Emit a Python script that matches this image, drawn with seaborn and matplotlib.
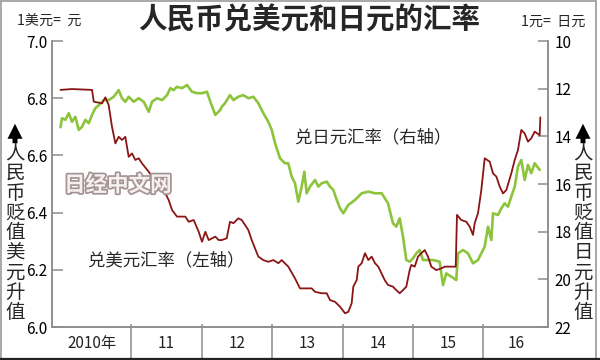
import matplotlib
matplotlib.use("Agg")
import matplotlib.pyplot as plt
import matplotlib.patheffects as pe
from matplotlib.lines import Line2D
from matplotlib.patches import FancyArrowPatch
import seaborn as sns

# ---------------- data ----------------
usd_t = [2010.00, 2010.16, 2010.447, 2010.471, 2010.589, 2010.636, 2010.683, 2010.730, 2010.778, 2010.825,
         2010.872, 2010.919, 2010.967, 2011.014, 2011.061, 2011.109, 2011.156, 2011.251, 2011.298, 2011.393,
         2011.487, 2011.534, 2011.582, 2011.652, 2011.770, 2011.818, 2011.889, 2011.960, 2012.007, 2012.054,
         2012.102, 2012.196, 2012.243, 2012.286, 2012.357, 2012.404, 2012.452, 2012.522, 2012.570, 2012.617,
         2012.664, 2012.712, 2012.759, 2012.806, 2012.877, 2012.948, 2013.019, 2013.090, 2013.137, 2013.231,
         2013.326, 2013.397, 2013.468, 2013.563, 2013.610, 2013.704, 2013.776, 2013.823, 2013.894, 2013.965,
         2014.035, 2014.082, 2014.130, 2014.153, 2014.201, 2014.224, 2014.272, 2014.319, 2014.366, 2014.414,
         2014.461, 2014.508, 2014.599, 2014.645, 2014.716, 2014.763, 2014.811, 2014.858, 2014.905, 2014.953,
         2014.976, 2015.024, 2015.071, 2015.118, 2015.166, 2015.213, 2015.260, 2015.331, 2015.402, 2015.450,
         2015.606, 2015.624, 2015.685, 2015.756, 2015.804, 2015.851, 2015.875, 2015.922, 2015.969, 2016.017,
         2016.088, 2016.135, 2016.182, 2016.230, 2016.277, 2016.324, 2016.394, 2016.443, 2016.489, 2016.536,
         2016.584, 2016.631, 2016.678, 2016.726, 2016.797, 2016.806]
usd_rate = [6.829, 6.832, 6.829, 6.788, 6.782, 6.803, 6.776, 6.700, 6.642, 6.665,
            6.654, 6.665, 6.595, 6.607, 6.584, 6.590, 6.572, 6.543, 6.526, 6.491,
            6.467, 6.444, 6.409, 6.386, 6.386, 6.368, 6.374, 6.333, 6.298, 6.333,
            6.304, 6.316, 6.304, 6.304, 6.310, 6.368, 6.363, 6.380, 6.374, 6.357,
            6.339, 6.304, 6.275, 6.246, 6.234, 6.228, 6.234, 6.223, 6.234, 6.211,
            6.170, 6.135, 6.135, 6.135, 6.123, 6.118, 6.118, 6.094, 6.088, 6.071,
            6.048, 6.053, 6.083, 6.141, 6.164, 6.211, 6.223, 6.258, 6.234, 6.246,
            6.223, 6.211, 6.164, 6.147, 6.141, 6.129, 6.118, 6.129, 6.141, 6.199,
            6.217, 6.211, 6.246, 6.258, 6.269, 6.246, 6.211, 6.199, 6.205, 6.211,
            6.211, 6.392, 6.374, 6.368, 6.351, 6.322, 6.363, 6.398, 6.479, 6.590,
            6.578, 6.537, 6.526, 6.491, 6.467, 6.479, 6.537, 6.584, 6.619, 6.689,
            6.677, 6.648, 6.660, 6.683, 6.671, 6.733]

jpy_t = [2010.000, 2010.021, 2010.068, 2010.116, 2010.163, 2010.210, 2010.258, 2010.305, 2010.352, 2010.400,
         2010.447, 2010.494, 2010.542, 2010.613, 2010.683, 2010.754, 2010.825, 2010.872, 2010.919, 2010.967,
         2011.038, 2011.109, 2011.180, 2011.251, 2011.298, 2011.369, 2011.440, 2011.511, 2011.558, 2011.605,
         2011.652, 2011.723, 2011.794, 2011.865, 2011.936, 2012.007, 2012.078, 2012.125, 2012.196, 2012.267,
         2012.286, 2012.333, 2012.404, 2012.452, 2012.522, 2012.593, 2012.664, 2012.735, 2012.806, 2012.877,
         2012.948, 2012.996, 2013.043, 2013.113, 2013.184, 2013.231, 2013.279, 2013.326, 2013.373, 2013.421,
         2013.458, 2013.492, 2013.539, 2013.610, 2013.657, 2013.704, 2013.776, 2013.823, 2013.870, 2013.918,
         2013.965, 2014.012, 2014.082, 2014.177, 2014.272, 2014.366, 2014.461, 2014.556, 2014.645, 2014.716,
         2014.763, 2014.811, 2014.858, 2014.905, 2014.953, 2015.000, 2015.047, 2015.095, 2015.142, 2015.213,
         2015.284, 2015.378, 2015.426, 2015.472, 2015.543, 2015.614, 2015.638, 2015.709, 2015.780, 2015.851,
         2015.922, 2015.969, 2016.017, 2016.064, 2016.111, 2016.135, 2016.206, 2016.253, 2016.300, 2016.348,
         2016.394, 2016.443, 2016.489, 2016.536, 2016.584, 2016.631, 2016.678, 2016.726, 2016.797]
jpy_rate = [13.62, 13.24, 13.31, 13.03, 13.39, 13.18, 13.73, 13.60, 13.31, 13.45,
            13.10, 12.82, 12.69, 12.48, 12.48, 12.34, 12.06, 12.40, 12.55, 12.34,
            12.55, 12.40, 12.55, 12.97, 12.55, 12.40, 12.48, 12.27, 11.98, 12.06,
            11.92, 11.98, 11.85, 12.13, 12.19, 12.19, 12.13, 12.55, 13.10, 12.89,
            12.76, 12.61, 12.27, 12.48, 12.34, 12.27, 12.40, 12.34, 12.61, 13.03,
            13.39, 13.73, 14.29, 14.92, 15.13, 15.13, 15.69, 15.97, 16.74, 16.11,
            15.48, 16.39, 16.11, 15.83, 16.11, 15.97, 15.90, 16.11, 16.25, 16.67,
            17.02, 17.23, 16.88, 16.67, 16.39, 16.32, 16.39, 16.39, 16.81, 17.65,
            17.79, 17.44, 18.21, 19.19, 19.26, 19.12, 18.91, 18.77, 19.19, 19.19,
            19.19, 19.26, 20.24, 19.75, 19.89, 20.03, 18.91, 18.77, 18.91, 19.33,
            19.19, 18.91, 18.63, 17.79, 18.35, 17.23, 17.30, 17.02, 16.81, 16.95,
            16.53, 16.11, 15.27, 14.99, 15.83, 15.20, 15.55, 15.13, 15.41]

year_bounds = [2011, 2012, 2013, 2014, 2015, 2016]
year_labels = ["2010年", "11", "12", "13", "14", "15", "16"]
left_ticks = [6.0, 6.2, 6.4, 6.6, 6.8, 7.0]
right_ticks = [10, 12, 14, 16, 18, 20, 22]

# ---------------- style ----------------
sns.set_style("white")
plt.rcParams['font.family'] = ['Liberation Sans Narrow', 'Noto Sans CJK SC', 'DejaVu Sans']
CJK = ['Noto Sans CJK SC', 'DejaVu Sans']
GRAY = '#8c8c8c'
RED = '#8b1515'
GREEN = '#8cc43c'

W, H = 600, 360
fig = plt.figure(figsize=(6, 3.6), dpi=100)
fig.patch.set_facecolor('white')
ax = fig.add_axes([52 / W, 1 - 327 / H, 496 / W, 286 / H])
ax2 = ax.twinx()

sns.lineplot(x=usd_t, y=usd_rate, ax=ax, color=RED, lw=1.3)
sns.lineplot(x=jpy_t, y=jpy_rate, ax=ax2, color=GREEN, lw=1.9)
ax.set_zorder(ax2.get_zorder() + 1)
ax.patch.set_visible(False)

xmin, xmax = 2009.879, 2016.915
ax.set_xlim(xmin, xmax)
ax.set_ylim(6.0, 7.0)
ax2.set_ylim(22, 10)
ax.set_xlabel(''); ax.set_ylabel(''); ax2.set_ylabel('')

ax.set_yticks(left_ticks)
ax.set_yticklabels([f"{v:.1f}" for v in left_ticks])
ax2.set_yticks(right_ticks)
ax2.set_yticklabels([str(v) for v in right_ticks])
ax.set_xticks(year_bounds)
ax.set_xticklabels([])

ax.tick_params(axis='y', left=True, right=False, direction='in', length=8, width=1.1,
               color=GRAY, pad=3.5, labelsize=11, labelcolor='black')
ax2.tick_params(axis='y', right=True, left=False, direction='in', length=7.5, width=1.1,
                color=GRAY, pad=4.5, labelsize=11, labelcolor='black')
ax.tick_params(axis='x', bottom=True, direction='in', length=2.5, width=1.1, color=GRAY)
ax2.tick_params(axis='x', bottom=False, top=False)

for a in (ax, ax2):
    for s in ('left', 'right', 'bottom'):
        a.spines[s].set_color(GRAY)
        a.spines[s].set_linewidth(1.1)
    a.spines['top'].set_visible(False)
    a.grid(False)

# bottom year band
tr = ax.get_xaxis_transform()
ax.vlines(year_bounds, -0.108, 0, transform=tr, colors=GRAY, lw=1.1, clip_on=False)
edges = [xmin] + year_bounds + [xmax]
for i, lab in enumerate(year_labels):
    ax.text((edges[i] + edges[i + 1]) / 2, -0.056, lab, transform=tr, ha='center', va='center',
            fontsize=11, color='#222222')

# title and unit labels
fig.text(309 / W, 1 - 20 / H, "人民币兑美元和日元的汇率", ha='center', va='center',
         fontsize=20.5, fontweight='bold', family=CJK)
fig.text(17 / W, 1 - 22 / H, "1美元=  元", ha='left', va='center', fontsize=10.2, family=CJK)
fig.text(521 / W, 1 - 22 / H, "1元=  日元", ha='left', va='center', fontsize=10.2, family=CJK)

# series annotations
fig.text(295 / W, 1 - 137 / H, "兑日元汇率（右轴）", ha='left', va='center', fontsize=12.5, family=CJK)
fig.text(88 / W, 1 - 260 / H, "兑美元汇率（左轴）", ha='left', va='center', fontsize=12.5, family=CJK)

# watermark
fig.text(64 / W, 1 - 185 / H, "日经中文网", ha='left', va='center', fontsize=15.5, fontweight='bold',
         family=CJK, color='#f6f0f0',
         path_effects=[pe.Stroke(linewidth=2.5, foreground='#a59393'), pe.Normal()])

# vertical side labels with arrows
fig.text(15 / W, 1 - 233 / H, "\n".join("人民币贬值美元升值"), ha='center', va='center',
         fontsize=14, linespacing=0.93, family=CJK)
fig.text(583 / W, 1 - 233 / H, "\n".join("人民币贬值日元升值"), ha='center', va='center',
         fontsize=14, linespacing=0.93, family=CJK)
for xc in (15, 583):
    arr = FancyArrowPatch((xc / W, 1 - 146 / H), (xc / W, 1 - 121 / H), transform=fig.transFigure,
                          arrowstyle='simple,head_width=0.9,head_length=0.9,tail_width=0.3',
                          mutation_scale=12, color='black', lw=0)
    fig.add_artist(arr)

# outer frame
fig.add_artist(Line2D([1 / W, 596 / W], [1 - 1 / H, 1 - 1 / H], transform=fig.transFigure, color='#9a9a9a', lw=1.2))
fig.add_artist(Line2D([1 / W, 1 / W], [1 - 1 / H, 1 - 358 / H], transform=fig.transFigure, color='#9a9a9a', lw=1.2))
fig.add_artist(Line2D([596 / W, 596 / W], [1 - 1 / H, 1 - 358 / H], transform=fig.transFigure, color='#9a9a9a', lw=1.2))
fig.add_artist(Line2D([0, 1], [1 - 358.5 / H, 1 - 358.5 / H], transform=fig.transFigure, color='#222222', lw=1.6))

fig.savefig("out.png", dpi=100)
